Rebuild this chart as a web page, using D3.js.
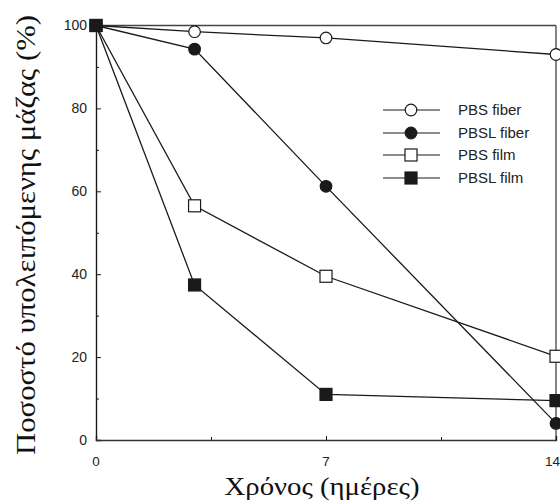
<!DOCTYPE html>
<html>
<head>
<meta charset="utf-8">
<script src="https://cdn.jsdelivr.net/npm/d3@7"></script>
<style>
  html, body { margin: 0; padding: 0; background: #fff; }
  svg { display: block; }
</style>
</head>
<body>
<svg id="chart" width="560" height="501"></svg>
<script>
// Days of exposure
const days = [0, 3, 7, 14];

// Remaining mass (%) per sample
const pbsFiber  = [100, 98.5, 97, 93];
const pbslFiber = [100, 94.3, 61.2, 4];
const pbsFilm   = [100, 56.5, 39.5, 20.2];
const pbslFilm  = [100, 37.4, 11, 9.5];

const seriesNames = ["PBS fiber", "PBSL fiber", "PBS film", "PBSL film"];
const seriesValues = [pbsFiber, pbslFiber, pbsFilm, pbslFilm];

// Axis ticks
const xTickLabels = [0, 7, 14];
const xMinorTicks = [3.5, 10.5];
const yTickLabels = [0, 20, 40, 60, 80, 100];
const yMinorTicks = [10, 30, 50, 70, 90];

const svg = d3.select("#chart");
const ink = "#1a1a1a";
const sans = "Liberation Sans, Arial, sans-serif";
const serif = "Liberation Serif, Times New Roman, serif";

const x = d3.scaleLinear().domain([0, 14]).range([96, 556]);
const y = d3.scaleLinear().domain([0, 100]).range([440, 25.5]);

// Frame: top and right edges
svg.append("line").attr("x1", x(0)).attr("x2", x(14)).attr("y1", y(100)).attr("y2", y(100))
  .attr("stroke", "#444").attr("stroke-width", 1.3);
svg.append("line").attr("x1", x(14)).attr("x2", x(14)).attr("y1", y(100)).attr("y2", y(0))
  .attr("stroke", "#444").attr("stroke-width", 1.3);

// Y axis (ticks point into the plot)
const yAxis = svg.append("g").attr("transform", `translate(${x(0)},0)`)
  .call(d3.axisRight(y).tickValues(yTickLabels).tickSize(5).tickFormat(""));
yAxis.select(".domain").attr("stroke", ink).attr("stroke-width", 1.4);
yAxis.selectAll(".tick line").attr("stroke", ink);
svg.append("g").attr("transform", `translate(${x(0)},0)`)
  .call(d3.axisRight(y).tickValues(yMinorTicks).tickSize(3).tickFormat(""))
  .call(g => g.select(".domain").remove())
  .selectAll(".tick line").attr("stroke", ink);
svg.append("g").selectAll("text").data(yTickLabels).join("text")
  .attr("x", 87).attr("y", d => y(d)).attr("dy", "0.35em")
  .attr("text-anchor", "end")
  .attr("font-family", sans).attr("font-size", 14)
  .attr("fill", "#222").text(d => d);

// X axis
const xAxis = svg.append("g").attr("transform", `translate(0,${y(0)})`)
  .call(d3.axisTop(x).tickValues(xTickLabels).tickSize(4).tickFormat(""));
xAxis.select(".domain").attr("stroke", "#333").attr("stroke-width", 1.4);
xAxis.selectAll(".tick line").attr("stroke", ink);
svg.append("g").attr("transform", `translate(0,${y(0)})`)
  .call(d3.axisTop(x).tickValues(xMinorTicks).tickSize(3).tickFormat(""))
  .call(g => g.select(".domain").remove())
  .selectAll(".tick line").attr("stroke", ink);
svg.append("g").selectAll("text").data(xTickLabels).join("text")
  .attr("x", d => d === 14 ? 560 : x(d)).attr("y", 461).attr("dy", "0.35em")
  .attr("text-anchor", d => d === 14 ? "end" : "middle")
  .attr("font-family", sans).attr("font-size", 13.5)
  .attr("fill", "#222").text(d => d);

// Axis titles
svg.append("text")
  .attr("x", 322).attr("y", 495)
  .attr("text-anchor", "middle")
  .attr("font-family", serif).attr("font-size", 25)
  .attr("textLength", 195).attr("lengthAdjust", "spacingAndGlyphs")
  .attr("fill", "#111").text("Χρόνος (ημέρες)");
svg.append("text")
  .attr("transform", "translate(35,235) rotate(-90)")
  .attr("text-anchor", "middle")
  .attr("font-family", serif).attr("font-size", 27)
  .attr("textLength", 440).attr("lengthAdjust", "spacingAndGlyphs")
  .attr("fill", "#111").text("Ποσοστό υπολειπόμενης μάζας (%)");

// Marker drawing
const markerKinds = [
  { shape: "circle", fill: "#fff" },
  { shape: "circle", fill: ink },
  { shape: "square", fill: "#fff" },
  { shape: "square", fill: ink }
];
function drawMarker(g, kind, cx, cy) {
  if (kind.shape === "circle") {
    g.append("circle").attr("cx", cx).attr("cy", cy).attr("r", 5.8)
      .attr("fill", kind.fill).attr("stroke", ink).attr("stroke-width", 1.2);
  } else {
    g.append("rect").attr("x", cx - 6).attr("y", cy - 6).attr("width", 12).attr("height", 12)
      .attr("fill", kind.fill).attr("stroke", ink).attr("stroke-width", 1.2);
  }
}

const line = d3.line().x(d => x(d[0])).y(d => y(d[1]));

const plot = svg.append("g");
seriesValues.forEach((vals, i) => {
  const pts = days.map((d, j) => [d, vals[j]]);
  plot.append("path").datum(pts).attr("d", line)
    .attr("fill", "none").attr("stroke", ink).attr("stroke-width", 1.3);
});
seriesValues.forEach((vals, i) => {
  const g = plot.append("g");
  days.forEach((d, j) => drawMarker(g, markerKinds[i], x(d), y(vals[j])));
});

// Legend
const legend = svg.append("g");
const legendRows = [110, 133, 155, 178];
seriesNames.forEach((name, i) => {
  const ly = legendRows[i];
  legend.append("line").attr("x1", 383).attr("x2", 440).attr("y1", ly).attr("y2", ly)
    .attr("stroke", ink).attr("stroke-width", 1.2);
  drawMarker(legend, markerKinds[i], 411, ly);
  legend.append("text").attr("x", 458).attr("y", ly).attr("dy", "0.35em")
    .attr("font-family", sans).attr("font-size", 15)
    .attr("fill", "#222").text(name);
});
</script>
</body>
</html>
